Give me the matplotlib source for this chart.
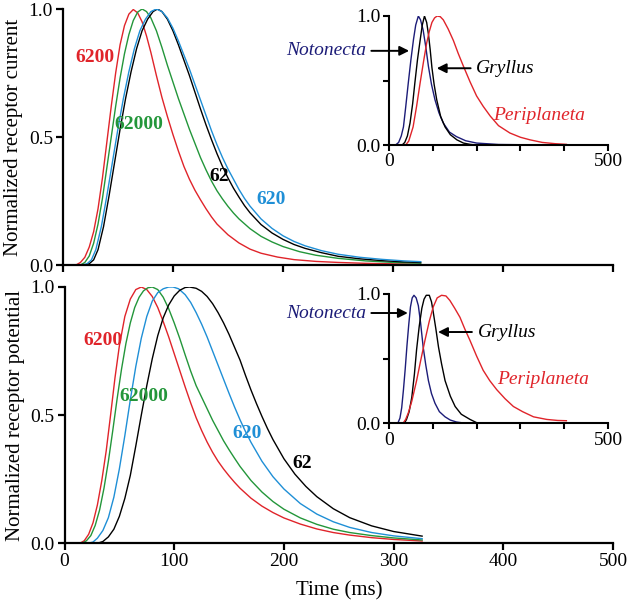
import matplotlib
matplotlib.use("Agg")
import matplotlib.pyplot as plt

plt.rcParams['font.family'] = ['Liberation Serif', 'DejaVu Serif']

RED = '#e0242a'
GREEN = '#23963a'
BLUE = '#1f8fd6'
NAVY = '#1c1c78'

# Upper panel: normalized receptor current (ms, normalized)
cur_6200_t = [0, 12, 16, 20, 24, 28, 32, 36, 40, 44, 48, 52, 56, 60, 64, 68, 72, 76, 80, 85, 90, 95, 100,
              105, 110, 115, 120, 125, 130, 135, 140, 150, 160, 170, 180, 195, 210, 230, 250, 275, 300, 325]
cur_6200_v = [0, 0, 0.01, 0.03, 0.07, 0.13, 0.22, 0.34, 0.48, 0.62, 0.75, 0.86, 0.935, 0.98, 0.998, 0.985,
              0.95, 0.895, 0.83, 0.74, 0.655, 0.58, 0.51, 0.445, 0.385, 0.335, 0.292, 0.255, 0.22, 0.188,
              0.16, 0.118, 0.086, 0.062, 0.046, 0.031, 0.021, 0.014, 0.01, 0.0065, 0.0045, 0.003]
cur_62000_t = [0, 16, 20, 24, 28, 32, 36, 40, 44, 48, 52, 56, 60, 64, 68, 72, 76, 80, 85, 90, 95, 100,
               105, 110, 115, 120, 125, 130, 135, 140, 145, 150, 155, 160, 170, 180, 190, 200, 215, 230,
               250, 275, 300, 325]
cur_62000_v = [0, 0, 0.01, 0.035, 0.085, 0.16, 0.26, 0.38, 0.5, 0.62, 0.73, 0.825, 0.9, 0.955, 0.988, 1.0,
               0.99, 0.965, 0.915, 0.85, 0.78, 0.715, 0.65, 0.59, 0.53, 0.475, 0.42, 0.372, 0.328, 0.29,
               0.258, 0.229, 0.203, 0.18, 0.142, 0.112, 0.09, 0.072, 0.052, 0.038, 0.026, 0.016, 0.01,
               0.007]
cur_620_t = [0, 18, 22, 26, 30, 35, 40, 45, 50, 55, 60, 65, 70, 75, 80, 85, 90, 95, 100, 105, 110, 115,
             120, 125, 130, 135, 140, 145, 150, 155, 160, 165, 170, 180, 190, 200, 210, 220, 235, 250,
             270, 290, 310, 325]
cur_620_v = [0, 0, 0.005, 0.02, 0.06, 0.15, 0.27, 0.4, 0.53, 0.65, 0.755, 0.845, 0.915, 0.96, 0.99, 1.0,
             0.99, 0.965, 0.925, 0.875, 0.82, 0.765, 0.705, 0.645, 0.585, 0.525, 0.47, 0.42, 0.375,
             0.335, 0.295, 0.26, 0.23, 0.18, 0.143, 0.114, 0.092, 0.075, 0.056, 0.042, 0.03, 0.022,
             0.016, 0.013]
cur_62_t = [0, 20, 24, 28, 32, 37, 42, 47, 52, 57, 62, 67, 72, 77, 82, 86, 90, 95, 100, 105, 110, 115,
            120, 125, 130, 135, 140, 145, 150, 155, 160, 165, 170, 180, 190, 200, 210, 220, 235, 250,
            270, 290, 310, 325]
cur_62_v = [0, 0, 0.005, 0.02, 0.06, 0.15, 0.27, 0.4, 0.53, 0.65, 0.755, 0.845, 0.915, 0.96, 0.99, 1.0,
            0.99, 0.96, 0.915, 0.86, 0.8, 0.74, 0.675, 0.61, 0.548, 0.49, 0.435, 0.385, 0.34, 0.3,
            0.265, 0.232, 0.204, 0.158, 0.125, 0.1, 0.08, 0.065, 0.048, 0.034, 0.024, 0.017, 0.012,
            0.01]

# Lower panel: normalized receptor potential
pot_6200_t = [0, 14, 18, 22, 26, 30, 34, 38, 42, 46, 50, 55, 60, 65, 70, 75, 80, 85, 90, 95, 100, 105,
              110, 115, 120, 125, 130, 135, 140, 145, 150, 155, 160, 170, 180, 190, 200, 215, 230, 245,
              260, 280, 300, 326]
pot_6200_v = [0, 0, 0.01, 0.035, 0.08, 0.15, 0.245, 0.36, 0.5, 0.645, 0.77, 0.885, 0.953, 0.99, 1.0,
              0.99, 0.963, 0.92, 0.865, 0.805, 0.74, 0.675, 0.61, 0.548, 0.49, 0.44, 0.395, 0.355, 0.32,
              0.29, 0.263, 0.238, 0.215, 0.176, 0.145, 0.12, 0.099, 0.075, 0.056, 0.042, 0.032, 0.022,
              0.015, 0.009]
pot_62000_t = [0, 16, 20, 24, 28, 32, 36, 40, 44, 48, 52, 56, 60, 64, 68, 72, 76, 80, 85, 90, 95, 100,
               105, 110, 115, 120, 125, 130, 135, 140, 145, 150, 155, 160, 170, 180, 190, 200, 215, 230,
               245, 260, 280, 300, 326]
pot_62000_v = [0, 0, 0.01, 0.03, 0.07, 0.13, 0.215, 0.32, 0.44, 0.565, 0.68, 0.78, 0.86, 0.92, 0.96,
               0.985, 0.997, 1.0, 0.99, 0.96, 0.915, 0.86, 0.8, 0.735, 0.672, 0.615, 0.57, 0.525, 0.48,
               0.44, 0.4, 0.365, 0.332, 0.3, 0.245, 0.2, 0.163, 0.133, 0.099, 0.074, 0.055, 0.042, 0.03,
               0.021, 0.013]
pot_620_t = [0, 22, 26, 30, 35, 40, 45, 50, 55, 60, 65, 70, 75, 80, 85, 90, 95, 99, 104, 110, 115, 120,
             125, 130, 135, 140, 145, 150, 155, 160, 165, 170, 180, 190, 200, 215, 230, 245, 260, 280,
             300, 326]
pot_620_v = [0, 0, 0.005, 0.02, 0.05, 0.1, 0.18, 0.29, 0.42, 0.56, 0.69, 0.8, 0.885, 0.945, 0.978, 0.993,
             1.0, 1.0, 0.993, 0.97, 0.94, 0.9, 0.855, 0.805, 0.75, 0.695, 0.64, 0.585, 0.532, 0.482,
             0.436, 0.394, 0.32, 0.26, 0.212, 0.155, 0.114, 0.084, 0.062, 0.042, 0.029, 0.018]
pot_62_t = [0, 30, 35, 40, 45, 50, 55, 60, 65, 70, 75, 80, 85, 90, 95, 100, 105, 110, 114, 120, 125, 130,
            135, 140, 145, 150, 155, 160, 165, 170, 175, 180, 185, 190, 200, 210, 220, 230, 245, 260, 280,
            300, 326]
pot_62_v = [0, 0, 0.007, 0.025, 0.055, 0.105, 0.175, 0.265, 0.38, 0.5, 0.615, 0.72, 0.81, 0.88, 0.93,
            0.965, 0.987, 0.998, 1.0, 0.995, 0.983, 0.963, 0.935, 0.9, 0.86, 0.815, 0.765, 0.715, 0.655,
            0.598, 0.545, 0.495, 0.448, 0.405, 0.33, 0.27, 0.222, 0.182, 0.135, 0.1, 0.068, 0.046, 0.028]

# Insets: other species
cur_noto_t = [0, 15, 22, 28, 33, 38, 44, 50, 56, 61, 67, 72, 78, 84, 90, 97, 105, 114, 124, 138, 154,
              175, 200, 250, 330, 405]
cur_noto_v = [0, 0, 0.02, 0.07, 0.14, 0.29, 0.48, 0.66, 0.82, 0.93, 1.0, 0.97, 0.89, 0.76, 0.61, 0.47,
              0.35, 0.25, 0.17, 0.1, 0.065, 0.033, 0.015, 0.004, 0.001, 0]
cur_gryl_t = [0, 30, 36, 42, 48, 54, 59, 65, 71, 76, 81, 86, 90, 94, 98, 103, 109, 118, 128, 140, 155,
              170, 185, 200]
cur_gryl_v = [0, 0, 0.02, 0.07, 0.17, 0.32, 0.48, 0.66, 0.81, 0.93, 1.0, 0.95, 0.86, 0.74, 0.6, 0.47,
              0.35, 0.22, 0.14, 0.08, 0.04, 0.015, 0.005, 0]
cur_peri_t = [0, 38, 45, 55, 63, 71, 79, 86, 92, 98, 104, 110, 117, 124, 135, 147, 158, 170, 185, 200,
              215, 231, 250, 276, 300, 322, 350, 380, 405]
cur_peri_v = [0, 0, 0.03, 0.14, 0.3, 0.48, 0.65, 0.79, 0.88, 0.95, 0.985, 1.0, 0.995, 0.97, 0.9, 0.81,
              0.71, 0.61, 0.49, 0.38, 0.3, 0.225, 0.15, 0.093, 0.06, 0.04, 0.02, 0.01, 0.005]

pot_noto_t = [0, 20, 25, 29, 33, 37, 41, 45, 49, 53, 57, 62, 67, 72, 78, 84, 90, 97, 105, 115, 128, 140,
              154, 175]
pot_noto_v = [0, 0, 0.04, 0.12, 0.26, 0.42, 0.6, 0.76, 0.9, 0.97, 0.99, 0.97, 0.91, 0.78, 0.59, 0.45,
              0.33, 0.23, 0.155, 0.09, 0.05, 0.025, 0.01, 0]
pot_gryl_t = [0, 35, 40, 46, 52, 58, 63, 69, 75, 80, 85, 92, 97, 101, 107, 113, 120, 128, 140, 151, 165,
              185, 200]
pot_gryl_v = [0, 0, 0.03, 0.09, 0.2, 0.38, 0.57, 0.75, 0.89, 0.96, 0.99, 0.99, 0.94, 0.86, 0.73, 0.59,
              0.46, 0.33, 0.21, 0.13, 0.07, 0.03, 0.005]
pot_peri_t = [0, 32, 38, 44, 52, 63, 72, 82, 92, 101, 110, 120, 130, 139, 150, 162, 173, 185, 200, 215,
              230, 246, 265, 284, 305, 330, 360, 385, 405]
pot_peri_v = [0, 0, 0.03, 0.08, 0.17, 0.33, 0.48, 0.64, 0.79, 0.9, 0.97, 0.99, 0.985, 0.95, 0.89, 0.82,
              0.73, 0.64, 0.52, 0.41, 0.33, 0.26, 0.19, 0.13, 0.09, 0.05, 0.03, 0.022, 0.02]

main_xticks = [0, 100, 200, 300, 400, 500]
main_yticks = [0.0, 0.5, 1.0]
main_yticklabels = ['0.0', '0.5', '1.0']
inset_xticks = [0, 100, 200, 300, 400, 500]
inset_xticklabels = ['0', '', '', '', '', '500']
inset_yticklabels = ['0.0', '', '1.0']


def style_axes(ax, lw=1.6, size=14):
    for side in ('top', 'right'):
        ax.spines[side].set_visible(False)
    for side in ('left', 'bottom'):
        ax.spines[side].set_linewidth(lw)
    ax.tick_params(direction='out', width=lw, length=5, labelsize=size, pad=2)
    ax.set_xlim(0, 500)
    ax.set_ylim(0, 1)


fig = plt.figure(figsize=(6.3, 6.01), dpi=100)
W, H = 630.0, 601.0

ax_top = fig.add_axes([62.8 / W, 1 - 265 / H, 550.6 / W, 256 / H])
ax_bot = fig.add_axes([64.5 / W, 1 - 543.3 / H, 548.5 / W, 256.3 / H])
in_top = fig.add_axes([389 / W, 1 - 145 / H, 219 / W, 129 / H])
in_bot = fig.add_axes([389 / W, 1 - 423.3 / H, 219 / W, 129.3 / H])

lw = 1.0
ax_top.plot(cur_6200_t, cur_6200_v, color=RED, lw=lw)
ax_top.plot(cur_62000_t, cur_62000_v, color=GREEN, lw=lw)
ax_top.plot(cur_62_t, cur_62_v, color='black', lw=lw)
ax_top.plot(cur_620_t, cur_620_v, color=BLUE, lw=lw)

ax_bot.plot(pot_6200_t, pot_6200_v, color=RED, lw=lw)
ax_bot.plot(pot_62000_t, pot_62000_v, color=GREEN, lw=lw)
ax_bot.plot(pot_620_t, pot_620_v, color=BLUE, lw=lw)
ax_bot.plot(pot_62_t, pot_62_v, color='black', lw=lw)

for ax in (ax_top, ax_bot):
    style_axes(ax)
    ax.set_xticks(main_xticks)
    ax.set_yticks(main_yticks)
    ax.set_yticklabels(main_yticklabels)
ax_top.set_xticklabels([])
ax_top.set_ylabel('Normalized receptor current', fontsize=15, labelpad=4)
ax_bot.set_ylabel('Normalized receptor potential', fontsize=15, labelpad=4)
ax_bot.set_xlabel('Time (ms)', fontsize=15, labelpad=8)

# concentration labels
bold = dict(fontsize=14, fontweight='bold', ha='center', va='center')
ax_top.text(29, 0.81, '6200', color=RED, **bold)
ax_top.text(69, 0.547, '62000', color=GREEN, **bold)
ax_top.text(142, 0.344, '62', color='black', **bold)
ax_top.text(189, 0.254, '620', color=BLUE, **bold)
ax_bot.text(35, 0.793, '6200', color=RED, **bold)
ax_bot.text(72.5, 0.571, '62000', color=GREEN, **bold)
ax_bot.text(166, 0.43, '620', color=BLUE, **bold)
ax_bot.text(217, 0.313, '62', color='black', **bold)

# insets
in_top.plot(cur_noto_t, cur_noto_v, color=NAVY, lw=lw)
in_top.plot(cur_gryl_t, cur_gryl_v, color='black', lw=lw)
in_top.plot(cur_peri_t, cur_peri_v, color=RED, lw=lw)
in_bot.plot(pot_noto_t, pot_noto_v, color=NAVY, lw=lw)
in_bot.plot(pot_gryl_t, pot_gryl_v, color='black', lw=lw)
in_bot.plot(pot_peri_t, pot_peri_v, color=RED, lw=lw)

arrow = dict(arrowstyle='-|>', color='black', lw=1.4, mutation_scale=14, shrinkA=2, shrinkB=0)
ital = dict(fontsize=14, style='italic', va='center')
for ax, noto, gryl, peri in ((in_top, (46, 0.73), (109, 0.595), (237, 0.23)),
                             (in_bot, (43, 0.853), (112, 0.706), (247, 0.335))):
    style_axes(ax, lw=1.5, size=14)
    ax.tick_params(length=4)
    ax.set_xticks(inset_xticks)
    ax.set_xticklabels(inset_xticklabels)
    ax.set_yticks(main_yticks)
    ax.set_yticklabels(inset_yticklabels)
    ax.annotate('Notonecta', xy=noto, xytext=(-53, noto[1]), color=NAVY, ha='right',
                arrowprops=arrow, **ital)
    ax.annotate('Gryllus', xy=gryl, xytext=(gryl[0] + 90, gryl[1]), color='black', ha='left',
                arrowprops=arrow, **ital)
    ax.text(peri[0], peri[1], 'Periplaneta', color=RED, ha='left', **ital)

fig.savefig('out.png', dpi=100)
